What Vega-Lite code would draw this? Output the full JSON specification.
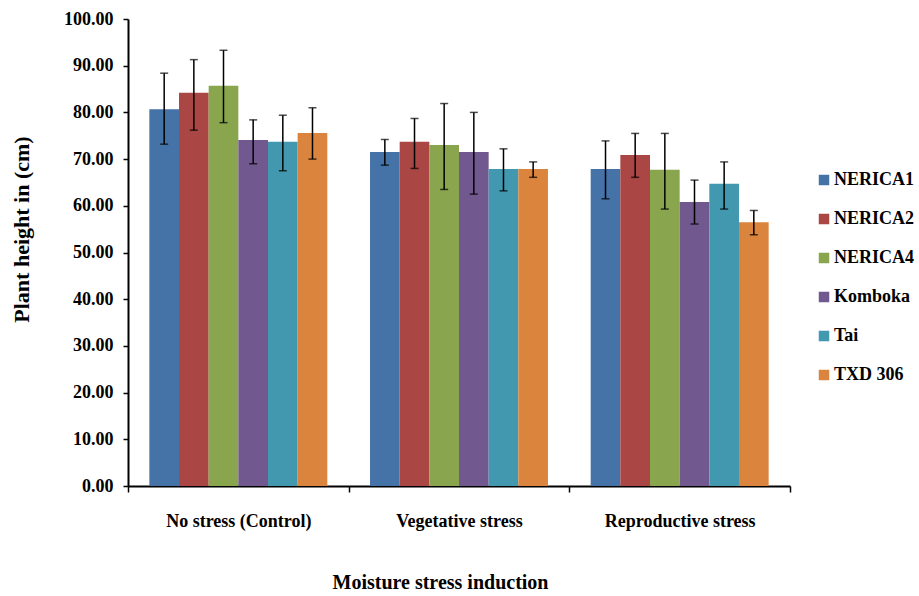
{
  "$schema": "https://vega.github.io/schema/vega-lite/v6.json",
  "width": 662,
  "height": 467,
  "autosize": {"type": "none"},
  "padding": {"left": 128, "top": 19, "right": 129, "bottom": 110},
  "background": "white",
  "config": {
    "view": {"stroke": null},
    "font": "Liberation Serif",
    "axis": {"labelFont": "Liberation Serif", "titleFont": "Liberation Serif", "labelFontWeight": "bold", "titleFontWeight": "bold", "labelColor": "black", "titleColor": "black", "domainColor": "black", "tickColor": "black", "domainWidth": 2, "tickWidth": 1.5, "grid": false, "labelOverlap": false},
    "legend": {"labelFont": "Liberation Serif", "labelFontWeight": "bold", "labelColor": "black"}
  },
  "data": {"values": [
    {"treatment": "No stress (Control)", "variety": "NERICA1", "height": 80.7, "lo": 73.2, "hi": 88.4},
    {"treatment": "No stress (Control)", "variety": "NERICA2", "height": 84.2, "lo": 76.2, "hi": 91.3},
    {"treatment": "No stress (Control)", "variety": "NERICA4", "height": 85.7, "lo": 77.8, "hi": 93.3},
    {"treatment": "No stress (Control)", "variety": "Komboka", "height": 74.1, "lo": 69.0, "hi": 78.4},
    {"treatment": "No stress (Control)", "variety": "Tai", "height": 73.7, "lo": 67.5, "hi": 79.4},
    {"treatment": "No stress (Control)", "variety": "TXD 306", "height": 75.6, "lo": 70.0, "hi": 81.0},
    {"treatment": "Vegetative stress", "variety": "NERICA1", "height": 71.5, "lo": 68.7, "hi": 74.2},
    {"treatment": "Vegetative stress", "variety": "NERICA2", "height": 73.7, "lo": 68.0, "hi": 78.7},
    {"treatment": "Vegetative stress", "variety": "NERICA4", "height": 73.0, "lo": 63.5, "hi": 81.9},
    {"treatment": "Vegetative stress", "variety": "Komboka", "height": 71.5, "lo": 62.5, "hi": 80.0},
    {"treatment": "Vegetative stress", "variety": "Tai", "height": 67.9, "lo": 63.2, "hi": 72.2},
    {"treatment": "Vegetative stress", "variety": "TXD 306", "height": 67.9, "lo": 66.1, "hi": 69.4},
    {"treatment": "Reproductive stress", "variety": "NERICA1", "height": 67.9, "lo": 61.5, "hi": 73.9},
    {"treatment": "Reproductive stress", "variety": "NERICA2", "height": 70.9, "lo": 66.1, "hi": 75.5},
    {"treatment": "Reproductive stress", "variety": "NERICA4", "height": 67.7, "lo": 59.3, "hi": 75.5},
    {"treatment": "Reproductive stress", "variety": "Komboka", "height": 60.8, "lo": 56.1, "hi": 65.5},
    {"treatment": "Reproductive stress", "variety": "Tai", "height": 64.7, "lo": 59.3, "hi": 69.4},
    {"treatment": "Reproductive stress", "variety": "TXD 306", "height": 56.5, "lo": 53.8, "hi": 59.0}
  ]},
  "encoding": {
    "x": {
      "field": "treatment", "type": "nominal",
      "sort": ["No stress (Control)", "Vegetative stress", "Reproductive stress"],
      "scale": {"paddingInner": 0, "paddingOuter": 0},
      "axis": {"title": "Moisture stress induction", "labelAngle": 0, "tickBand": "extent", "tickSize": 6, "labelPadding": 20, "labelFontSize": 18, "titleFontSize": 20, "titlePadding": 42, "titleX": 312}
    },
    "xOffset": {
      "field": "variety", "type": "nominal",
      "sort": ["NERICA1", "NERICA2", "NERICA4", "Komboka", "Tai", "TXD 306"],
      "scale": {"paddingInner": 0, "paddingOuter": 0.72}
    }
  },
  "layer": [
    {
      "mark": {"type": "bar"},
      "encoding": {
        "y": {
          "field": "height", "type": "quantitative",
          "scale": {"domain": [0, 100]},
          "axis": {"title": "Plant height  in (cm)", "format": ".2f", "values": [0,10,20,30,40,50,60,70,80,90,100], "tickSize": 5, "labelPadding": 10, "labelFontSize": 18, "titleFontSize": 22, "titlePadding": 30, "titleY": 210}
        },
        "color": {
          "field": "variety", "type": "nominal",
          "sort": ["NERICA1", "NERICA2", "NERICA4", "Komboka", "Tai", "TXD 306"],
          "scale": {"domain": ["NERICA1", "NERICA2", "NERICA4", "Komboka", "Tai", "TXD 306"], "range": ["#4572A7", "#AA4643", "#89A54E", "#71588F", "#4198AF", "#DB843D"]},
          "legend": {"title": null, "orient": "none", "legendX": 687, "legendY": 152, "symbolType": "square", "symbolSize": 110, "symbolStrokeWidth": 0, "labelFontSize": 18, "rowPadding": 21, "padding": 0, "labelOffset": 1}
        }
      }
    },
    {
      "mark": {"type": "rule", "color": "black", "strokeWidth": 1.5},
      "encoding": {
        "y": {"field": "lo", "type": "quantitative"},
        "y2": {"field": "hi"}
      }
    },
    {
      "mark": {"type": "tick", "color": "black", "thickness": 1.5, "size": 8},
      "encoding": {"y": {"field": "lo", "type": "quantitative"}}
    },
    {
      "mark": {"type": "tick", "color": "black", "thickness": 1.5, "size": 8},
      "encoding": {"y": {"field": "hi", "type": "quantitative"}}
    }
  ]
}
